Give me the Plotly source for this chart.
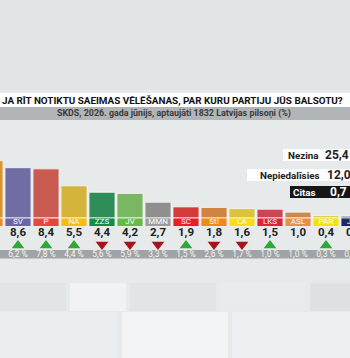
import plotly.graph_objects as go

# ---------------- data ----------------
parties = ["LPV", "SV", "P", "NA", "ZZS", "JV", "MMN", "SC", "St!", "LA", "LKS", "ASL", "PAR", "JKP"]
values = [9.8, 8.6, 8.4, 5.5, 4.4, 4.2, 2.7, 1.9, 1.8, 1.6, 1.5, 1.0, 0.4, 0.3]
previous = ["", "6,2 %", "7,8 %", "4,4 %", "5,6 %", "5,9 %", "3,3 %", "1,5 %", "2,6 %", "1,7 %", "1,0 %", "1,0 %", "0,3 %", "0,2 %"]
trend = [None, "up", "up", "up", "down", "down", "down", "up", "down", "down", "up", None, "up", None]
bar_colors = ["#d9952e", "#6f6da3", "#c95a4f", "#d5b43b", "#2f8e57", "#7bb762", "#8f8f8f",
              "#d33b3b", "#cf843f", "#d8c53d", "#cf4352", "#cc8753", "#d9cc3d", "#1f2a5e"]
band_colors = ["#f08c1e", "#6a66a8", "#e6473d", "#f5bd12", "#168b46", "#64bb47", "#9c9c9c",
               "#ea1d25", "#f08915", "#fcdc14", "#e0213b", "#e98e46", "#f2e214", "#1c2866"]

other_labels = ["Nezina", "Nepiedalīsies", "Citas"]
other_values = [25.4, 12.0, 0.7]

title = "JA RĪT NOTIKTU SAEIMAS VĒLĒŠANAS, PAR KURU PARTIJU JŪS BALSOTU?"
subtitle = "SKDS, 2026. gada jūnijs, aptaujāti 1832 Latvijas pilsoņi (%)"

# ---------------- geometry helpers ----------------
W, H = 350, 358
PX_PER_UNIT = 5.85
BASE_Y = 218
PITCH = 28
FIRST_CENTER = -10


def fx(px):
    return px / W


def fy(py):
    return 1 - py / H


def vy(py):
    return (BASE_Y - py) / PX_PER_UNIT


def fmt(v):
    return f"{v:.1f}".replace(".", ",")


xs = list(range(len(parties)))
band_h = vy(BASE_Y) - vy(226.5)

fig = go.Figure()

# main bars
fig.add_trace(go.Bar(
    x=xs, y=values, width=0.93,
    marker=dict(color=bar_colors, line=dict(color="rgba(245,245,245,0.85)", width=1)),
    hoverinfo="skip",
))
# label bands under bars
fig.add_trace(go.Bar(
    x=xs, y=[band_h] * len(xs), base=[-band_h] * len(xs), width=0.93,
    marker=dict(color=band_colors, line=dict(color="rgba(245,245,245,0.85)", width=1)),
    hoverinfo="skip",
))
fig.add_trace(go.Scatter(
    x=xs, y=[vy(222.2)] * len(xs), mode="text", text=parties,
    textfont=dict(family="Roboto", size=8, color="white"), hoverinfo="skip",
))
# value labels
fig.add_trace(go.Scatter(
    x=xs, y=[vy(233.2)] * len(xs), mode="text",
    text=[f"<b>{fmt(v)}</b>" for v in values],
    textfont=dict(family="Roboto", size=11.5, color="#222222"), hoverinfo="skip",
))
# trend triangles
up_x = [x for x, t in zip(xs, trend) if t == "up"]
dn_x = [x for x, t in zip(xs, trend) if t == "down"]
fig.add_trace(go.Scatter(
    x=up_x, y=[vy(245.5)] * len(up_x), mode="markers",
    marker=dict(symbol="triangle-up", size=11, color="#2ea63a", line=dict(width=0)),
    hoverinfo="skip",
))
fig.add_trace(go.Scatter(
    x=dn_x, y=[vy(244.5)] * len(dn_x), mode="markers",
    marker=dict(symbol="triangle-down", size=11, color="#a5141b", line=dict(width=0)),
    hoverinfo="skip",
))
# previous values in bottom band
fig.add_trace(go.Scatter(
    x=xs, y=[vy(254.4)] * len(xs), mode="text", text=previous,
    textfont=dict(family="Roboto", size=8.5, color="#f4f4f4"), hoverinfo="skip",
))

shapes = []
# background floor tiles (subtle)
tiles = [
    (0, 0, 350, 90, "#e1e5e6"),
    (0, 283, 66, 311, "#e2e5e6"), (70, 283, 126, 311, "#f0f2f3"), (130, 283, 216, 311, "#e2e5e6"),
    (220, 283, 305, 311, "#e9ebec"), (310, 283, 350, 311, "#dfe2e3"),
    (0, 312, 118, 358, "#ebeef0"), (122, 312, 228, 358, "#f2f4f6"), (232, 312, 350, 358, "#edf0f2"),
]
for x0, y0, x1, y1, c in tiles:
    shapes.append(dict(type="rect", xref="paper", yref="paper", x0=fx(x0), x1=fx(x1), y0=fy(y1), y1=fy(y0),
                       fillcolor=c, line=dict(width=0), layer="below"))
# title bands
shapes.append(dict(type="rect", xref="paper", yref="paper", x0=0, x1=1, y0=fy(107), y1=fy(93),
                   fillcolor="white", line=dict(width=0), layer="below"))
shapes.append(dict(type="rect", xref="paper", yref="paper", x0=0, x1=1, y0=fy(120), y1=fy(107),
                   fillcolor="#b2b5b7", line=dict(width=0), layer="below"))
# bottom band for previous values
shapes.append(dict(type="rect", xref="paper", yref="paper", x0=0, x1=1, y0=fy(258.5), y1=fy(250),
                   fillcolor="#a0a4a7", line=dict(width=0), layer="below"))
# side boxes
boxes = [(283, 149, 161, "rgba(255,255,255,0.95)"), (247, 169, 181, "rgba(255,255,255,0.95)"),
         (290, 186, 198, "#161616")]
for x0, y0, y1, c in boxes:
    shapes.append(dict(type="rect", xref="paper", yref="paper", x0=fx(x0), x1=1, y0=fy(y1), y1=fy(y0),
                       fillcolor=c, line=dict(width=0), layer="above"))

annotations = [
    dict(text=f"<b>{title}</b>", x=fx(172), y=fy(100), xref="paper", yref="paper", showarrow=False,
         font=dict(family="Roboto", size=9.9, color="#111111"), xanchor="center", yanchor="middle"),
    dict(text=f"<b>{subtitle}</b>", x=fx(174), y=fy(113.5), xref="paper", yref="paper", showarrow=False,
         font=dict(family="Roboto", size=8.9, color="#3a3a3a"), xanchor="center", yanchor="middle"),
]
label_right = [321, 322, 318]
num_left = [323, 325, 328]
centers = [155, 175, 192]
txt_colors = ["#222222", "#222222", "#ffffff"]
for lab, v, xr, xl, cy, tc in zip(other_labels, other_values, label_right, num_left, centers, txt_colors):
    annotations.append(dict(text=f"<b>{lab}</b>", x=fx(xr), y=fy(cy), xref="paper", yref="paper",
                            showarrow=False, xanchor="right", yanchor="middle",
                            font=dict(family="Roboto", size=9.8, color=tc)))
    annotations.append(dict(text=f"<b>{fmt(v)}</b>", x=fx(xl), y=fy(cy - 0.5), xref="paper", yref="paper",
                            showarrow=False, xanchor="left", yanchor="middle",
                            font=dict(family="Roboto", size=12, color=tc)))

fig.update_layout(
    width=W, height=H, margin=dict(l=0, r=0, t=0, b=0),
    paper_bgcolor="#e7eaeb", plot_bgcolor="rgba(0,0,0,0)",
    showlegend=False, barmode="overlay",
    xaxis=dict(range=[(0 - FIRST_CENTER) / PITCH, (W - FIRST_CENTER) / PITCH], visible=False, fixedrange=True),
    yaxis=dict(range=[vy(H), vy(0)], visible=False, fixedrange=True),
    shapes=shapes, annotations=annotations,
)

fig.write_html("out.html")
